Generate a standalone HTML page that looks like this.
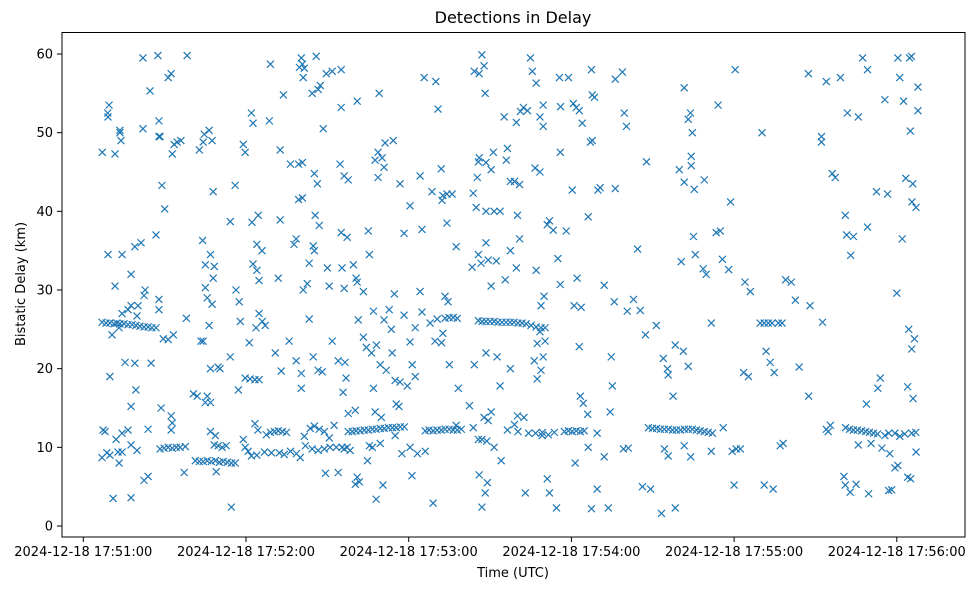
<!DOCTYPE html>
<html><head><meta charset="utf-8"><style>
body{margin:0;background:#fff;}
svg text{font-family:"DejaVu Sans","Liberation Sans",sans-serif;fill:#000;}
</style></head><body>
<svg id="chart" width="979" height="590" viewBox="0 0 979 590" xmlns="http://www.w3.org/2000/svg">
<rect width="979" height="590" fill="#fff"/>
<text x="513" y="23" font-size="16" text-anchor="middle">Detections in Delay</text>
<g id="marks"></g>
<g id="axes"></g>
<rect x="62" y="32.5" width="903" height="504.5" fill="none" stroke="#000" stroke-width="1"/>
<text x="513" y="577" font-size="13" text-anchor="middle">Time (UTC)</text>
<text x="0" y="0" font-size="13" text-anchor="middle" transform="translate(25,284) rotate(-90)">Bistatic Delay (km)</text>
</svg>
<script>
const xTickSeconds=[0,60,120,180,240,300];
const xTickLabels=["2024-12-18 17:51:00","2024-12-18 17:52:00","2024-12-18 17:53:00","2024-12-18 17:54:00","2024-12-18 17:55:00","2024-12-18 17:56:00"];
const yTicks=[0,10,20,30,40,50,60];
// [seconds after 17:51:00, bistatic delay km]
const detections=[
[7,47.5],[9,52.5],[9.5,53.5],[9.1,52],[11.7,47.3],[13.5,50.3],[13.9,49],[13.5,50],[22,59.5],[24.6,55.3],[22,50.5],[27.9,51.5],[27.5,59.8],[27.9,49.5],
[9.1,34.5],[14.3,34.5],[11.7,30.5],[17.6,32],[19,35.5],[21.3,36],[17.6,28],[20.2,28],[22.8,30],[22.4,29.3],[19.8,26.7],[14.3,27],[16.5,27.5],[26.8,37],[27.9,28.8],[27.9,27.5],[25,20.7],[19,20.7],[19.4,17.3],[15.4,20.8],[9.8,19],[10.6,24.3],[13.2,25.2],[17.6,15.2],
[6.9,25.9],[8.4,25.8],[9.8,25.8],[11.3,25.7],[12.4,25.8],[13.5,25.7],[15,25.7],[16.5,25.6],[18,25.6],[19.4,25.5],[20.9,25.4],[22.4,25.3],[23.9,25.3],[25.3,25.2],[26.8,25.2],
[7.3,12.2],[8,12],[6.9,8.7],[8.7,9.3],[9.8,9],[12.8,9.4],[14.3,9.4],[13.2,8],[12.1,11],[14.3,11.8],[17.6,10.3],[16.5,12.2],[19.8,9.6],[23.9,12.3],[22.4,5.8],[23.9,6.3],[11,3.5],[17.6,3.6],
[29,43.3],[30,40.3],[28.3,49.5],[31.3,57],[32.4,57.5],[32.8,47.3],[33.5,48.5],[34.6,48.8],[36,49],[38.3,59.8],
[29.5,23.8],[31.3,23.7],[33.2,24.3],[38,26.4],[28.7,15],[32.4,14],[32.8,13.1],[32.4,12.2],
[28.3,9.8],[29.8,9.9],[31.3,10],[32.8,9.9],[34.3,10],[35.7,10],[37.6,10.1],[37.2,6.8],
[44,36.3],[45,33.2],[46.9,34.5],[48.3,33],[47.9,31.5],[45,30.3],[45.7,29],[47.5,28.2],[43.4,23.5],[44.2,23.5],[46.4,25.5],[46.9,20],[49.7,20.2],[50.4,20],[45,15.7],[45.7,16.5],[46.9,15.7],[40.6,16.8],[42,16.5],
[42.8,47.8],[44.6,49.8],[46.4,50.3],[47.5,49],[44.2,48.8],[47.9,42.5],[54.2,38.7],[56,43.3],[56.3,30],[57.5,28.5],[57.9,26],[59,48.5],[59.7,47.5],[62,52.5],[62.6,51.2],[62.2,38.6],[64.5,39.5],[64,35.8],[65.9,35],[62.6,33.3],[64,32.5],[64.8,31.2],[64.8,27],[63.7,25.2],[61.2,23.3],[59.7,18.8],[61.5,18.7],[63.3,18.6],[64.8,18.6],[54.2,21.5],[57.2,17.3],
[41.3,8.3],[42.8,8.2],[44.2,8.2],[45.7,8.3],[47.2,8.2],[48.7,8.3],[50.2,8.1],[51.6,8.2],[53.1,8.1],[54.6,8],[56,8],
[46.9,12],[48.3,10.3],[49.7,10.2],[51.2,10],[52.7,10.2],[48.7,11.5],[49,6.9],[54.6,2.4],[59,11],[59.7,10],[60.8,9.5],[62,8.9],[64,9],[63.3,13],[64.4,12.2],
[69,58.7],[68.6,51.5],[73.8,54.8],[76.4,46],[72.6,47.8],[79.7,58.3],[80.4,59.5],[80.8,58.7],[81.5,58.2],[81.1,57],[84.4,55],[85.9,59.7],[86.6,55.5],[87.4,56],[89.6,57.5],[91.8,57.8],[95.1,58],[85.2,44.8],[86.3,43.5],[88.5,50.5],[95.1,53.2],[96.2,44.5],[97.7,44],[101,54],[94.7,46],[79.4,46],[80.8,46.2],[79.4,41.5],[80.8,41.7],
[107.6,46.5],[108.7,47.5],[110.2,46.8],[111.3,48.7],[114.3,49],[109.1,55],[110.9,45.6],[108.7,44.3],[116.8,43.5],
[72.6,38.9],[71.9,31.5],[77.7,35.8],[78.5,36.5],[82.6,30.8],[83.3,33.4],[84.8,35.6],[85.2,35],[85.5,39.5],[87,38.2],[83.3,26.3],[81.1,30],[90,32.8],[90.7,30.5],[95.1,37.3],[97.3,36.7],[95.4,32.8],[96.2,30.2],[99.6,33.2],[100.6,31.5],[101,31],[103.3,29.8],[101.4,26.2],[105.5,34.5],[105.1,37.5],[103.3,24],[107,27.3],[110.9,26.2],[112.8,27.5],[109.5,20.5],[113.6,25],[114.7,29.5],
[67.1,25.5],[66,26],[70.8,22],[73,19.7],[78.5,21],[80.4,19.4],[84.8,21.5],[86.6,19.8],[88.1,19.6],[75.9,23.5],[80.4,17.5],[91.8,23.5],[94,21],[96.5,20.8],[95.8,17],[97.7,14.3],[96.9,18.8],[100.3,14.7],[104.4,22.7],[106.3,22],[108.1,23],[107,17.5],[111.7,19.8],[113.9,22],[115,18.5],[116.8,18.3],[115.4,15.5],[116.4,15.2],[107.6,14.5],[109.9,13.8],
[67.5,11.6],[69,11.9],[70.5,12],[71.9,12.1],[73.4,12],[74.9,11.9],
[66.8,9.4],[69.4,9.3],[72.3,9.3],[74.1,9.1],[76.4,9.5],[78.6,9.2],
[80,8.7],[81.5,11.4],[83.7,12.4],[85.2,12.7],[87,12.3],[88.9,12],[90.7,11.2],[92.5,12.8],
[81.9,10.2],[84.4,9.8],[86.6,9.6],[88.9,9.8],[91,10],[93.3,10],[95.4,10],[97.3,10],
[97.7,12],[99.2,12],[100.6,12.1],[102.1,12.1],[103.6,12.2],[105.1,12.2],[106.6,12.3],[108,12.3],[109.5,12.4],[111,12.4],[112.5,12.5],[114,12.5],[115.4,12.5],[116.9,12.6],[118.4,12.6],
[96.2,9.8],[98.4,9.6],[100.3,5.3],[101.8,5.6],[101,6.2],[104.8,8.3],[106.6,10],[108,3.4],[110.5,5.2],[105.5,10.2],[109.5,10.5],[115,11.5],[117.5,9.2],[94,6.8],[89.3,6.7],
[125.7,57],[130,56.5],[130.8,53],[132.6,42],[134.1,42.2],[136,42.2],[132.3,41.4],[132,45.4],[128.6,42.5],[124.2,44.5],[120.5,40.7],[118.3,37.2],[124.9,37.7],[134.1,38.5],[137.5,35.5],
[144.2,57.8],[146,57.5],[147,59.9],[147.8,58.5],[148.2,55],[143.8,42.3],[144.9,40.5],[145.3,44.3],[145.7,46.3],[146,46.8],[148.5,46.2],[150.4,45.3],[151.2,47.5],[151.5,40],[148.5,40],[153.7,40],[155.2,52],[156,46.5],[156.4,48],[157.5,43.8],[159,43.8],[160.9,43.4],[160.1,39.5],[159.7,51.3],[161.2,52.7],[162.3,53.2],[163.8,52.8],[164.9,59.5],[165.6,57.8],[167,56.3],[169.6,50.8],[168.4,52],[169.6,53.5],[166.6,45.5],[168.4,45],[175.6,57],[176,53.3],[171.1,38.3],[171.9,38.8],[173.3,37.6],[175.9,47.5],
[143.4,32.9],[145.7,34.5],[146.7,33.4],[148.5,36],[149.3,33.8],[150.4,30.5],[152.3,33.7],[155.6,31.3],[157.5,35],[159.7,32.8],[160.9,36.5],[167,32.5],[168.8,28],[169.9,29.2],[175,34],
[124.2,29.8],[124.9,27.2],[127.9,25.8],[129.7,23.5],[130.5,26.3],[133.4,29.2],[134.5,28.5],[132.1,23.3],[132.6,24.5],[135,20.5],[118.3,26.8],[120.5,23.4],[122.4,25.2],[121.3,20.5],[119.5,17.8],[122.4,19],
[133.4,26.4],[134.9,26.5],[136.4,26.5],[137.9,26.4],[145.7,26.1],[147.1,26],[148.5,26],[150,26],[151.5,26],[152.9,25.9],[154.4,25.9],[155.9,25.9],[157.4,25.9],[158.8,25.9],[160.3,25.8],[161.8,25.8],[163.3,25.7],[165.1,25.5],[167,25.3],[168.8,25.2],[170.3,25.2],
[168.4,24.7],[167.4,23.2],[170.3,23.5],[144.2,20.5],[148.5,22],[152.6,21.5],[153.7,17.8],[157.5,20],[159,12.9],[160.1,14],[166.3,21],[167.4,18.7],[168.8,19.8],[169.6,21.5],
[142.4,15.3],[143.8,12.5],[147.8,13.8],[149.3,13.4],[150.4,14.5],[137.5,12.8],[145.7,11],[147,11],[148.8,10.8],
[126.1,12.1],[127.5,12.2],[129,12.1],[130.5,12.2],[132,12.2],[133.4,12.3],[134.9,12.3],[136.4,12.2],[137.9,12.2],[139.4,12.3],
[120.5,10],[123.2,9.2],[126.1,9.5],[146,6.5],[149,5.5],[148.2,4.2],[147,2.4],[151.5,10],[154.1,8.3],[156.4,12.2],[163,4.2],[169.2,11.5],[171.1,6],[171.9,4.2],[174.5,2.3],
[164.2,11.8],[166.8,11.8],[169.3,11.9],[171.5,11.6],[173.7,11.9],[160.3,12],[162.5,13.8],[121.2,6.4],[129,2.9],[138.3,17.5],
[178.9,57],[180.7,53.7],[181.8,53.2],[182.9,52.8],[184,51.2],[187.4,58],[187.7,54.8],[188.5,54.5],[187,48.8],[187.7,49],[190.6,43],[196.2,42.9],[196.2,56.8],[198.8,57.7],[199.5,52.5],[200.3,50.8],[207.7,46.3],
[204.4,35.2],[200.6,27.3],[202.9,28.8],[205.4,27.4],[207.3,24.3],[211.3,25.5],[213.9,21.3],[215.4,20],[218.3,23],[221.3,22.2],[223.1,20.3],[221.6,55.7],[219.8,45.3],[221.6,43.7],[224.2,45.8],[224.2,47],[223.9,52.5],[223.1,51.7],[224.6,50],[225.3,42.8],[229,44],[234.1,53.5],[225.7,34.5],[225,36.8],[220.5,33.6],[228.6,32.7],[229.7,32],[231.6,25.8],[233.4,37.3],[234.9,37.5],
[180.3,42.7],[186.2,39.3],[189.8,42.7],[178.1,37.5],[175.9,30.7],[182.1,31.5],[181,28],[183.6,27.8],[192.1,30.6],[195.8,28.5],[182.9,22.8],[194.7,21.5],[184.4,15.6],[183.3,16.5],[186,14.2],[189.5,11.8],[194.3,14.5],[195.1,17.8],
[177.4,12],[178.9,12.1],[180.3,12],[181.8,12.1],[183.3,12],[184.7,12.1],[181.4,8],[186.2,10],[189.5,4.7],[187.4,2.2],[193.6,2.3],[192.1,8.8],[199.2,9.8],[201,9.9],[206.2,5],[209.2,4.7],[213.2,1.6],[218.3,2.3],[214.3,9.8],[215.7,8.9],
[208.4,12.5],[209.9,12.4],[211.4,12.4],[212.8,12.3],[214.3,12.3],[215.8,12.3],[217.3,12.2],[218.7,12.2],[220.2,12.2],[221.7,12.3],[223.1,12.3],[224.6,12.3],[226.1,12.2],[227.5,12.1],[229,12],[230.5,11.9],[232,11.8],
[224,8.8],[231.6,9.5],[221.6,10.2],[215.7,19.2],[217.5,16.5],
[240.4,58],[250.3,50],[267.4,57.5],[274,56.5],[279.2,57],[287.4,59.5],[289.2,58],[281.8,52.5],[285.8,52],[295.6,54.2],[300.4,59.5],[301.1,57],[302.5,54],[304.7,59.5],[305.4,59.7],[307.8,55.8],[307.8,52.8],[305,50.2],[272.2,49.5],[272.2,48.8],[276.2,44.8],[277.3,44.3],[292.5,42.5],[296.6,42.2],[303.3,44.2],[305.9,43.5],[305.6,41.2],[307.1,40.5],
[238.7,41.2],[235.7,33.9],[238,32.6],[244,31],[246,29.8],[249.6,25.8],[251.1,25.8],[252.6,25.8],[254,25.8],[256.3,25.8],[257.7,25.8],[259,31.3],[261.1,31],[251.8,22.2],[253.3,20.8],[254.8,19.5],[262.6,28.7],[264,20.2],[272.6,25.9],[281.5,37],[283,34.4],[284,36.8],[289.2,38],[293.9,18.8],[293,17.5],[300,29.6],[302,36.5],[304.4,25],[305.5,22.5],[306.5,23.8],[304,17.7],[306,16.2],[268,28],[281,39.5],
[239.3,9.5],[240.8,9.8],[242.3,9.8],[240,5.2],[251.1,5.2],[254.4,4.7],[257,10.2],[258.1,10.5],[245.3,19],[243.5,19.5],[236,12.5],[267.5,16.5],
[274,12.3],[274.7,12],[275.5,12.8],[281.1,12.5],[282.6,12.3],[284,12.2],[285.5,12.2],[287,12.1],[288.5,12],[289.9,11.9],[291.4,11.8],[292.9,11.7],[295.6,11.5],[297,11.8],[299.3,11.8],[301.1,11.4],[302.9,11.7],[305.5,11.8],[307,11.9],
[281,5.2],[282.8,4.3],[285,5.3],[280.5,6.3],[289.6,4.1],[297,4.5],[298.1,4.6],[297.4,9.2],[299.3,7.4],[300.4,7.7],[304,6.2],[305.1,6],[307.1,9.4],[294.5,9.9],[290.5,10.5],[285.8,10.3],[288.8,15.5]
];
const svgNS="http://www.w3.org/2000/svg";
const X0=83.3, XS=162.7/60, Y0=526, YS=472/60;
function xScale(s){return X0+s*XS;}
function yScale(v){return Y0-v*YS;}
const marks=document.getElementById('marks');
detections.forEach((p,i)=>{
  const cx=xScale(p[0]), cy=yScale(p[1]), r=3.5;
  const path=document.createElementNS(svgNS,'path');
  path.setAttribute('d',`M${cx-r},${cy-r}L${cx+r},${cy+r}M${cx-r},${cy+r}L${cx+r},${cy-r}`);
  path.setAttribute('stroke','#1f77b4');
  path.setAttribute('stroke-width','1.2');
  path.setAttribute('fill','none');
  
  
  marks.appendChild(path);
});
const axes=document.getElementById('axes');
xTickSeconds.forEach((s,i)=>{
  const x=xScale(s);
  const ln=document.createElementNS(svgNS,'line');
  ln.setAttribute('x1',x);ln.setAttribute('x2',x);ln.setAttribute('y1',537);ln.setAttribute('y2',542);
  ln.setAttribute('stroke','#000');
  
  
  axes.appendChild(ln);
  const t=document.createElementNS(svgNS,'text');
  t.setAttribute('x',x);t.setAttribute('y',556);t.setAttribute('font-size','13');t.setAttribute('text-anchor','middle');
  t.textContent=xTickLabels[i];
  
  
  axes.appendChild(t);
});
yTicks.forEach(v=>{
  const y=yScale(v);
  const ln=document.createElementNS(svgNS,'line');
  ln.setAttribute('x1',57);ln.setAttribute('x2',62);ln.setAttribute('y1',y);ln.setAttribute('y2',y);
  ln.setAttribute('stroke','#000');
  
  
  axes.appendChild(ln);
  const t=document.createElementNS(svgNS,'text');
  t.setAttribute('x',53);t.setAttribute('y',y+4.5);t.setAttribute('font-size','13');t.setAttribute('text-anchor','end');
  t.textContent=String(v);
  
  
  axes.appendChild(t);
});
</script>
</body></html>
